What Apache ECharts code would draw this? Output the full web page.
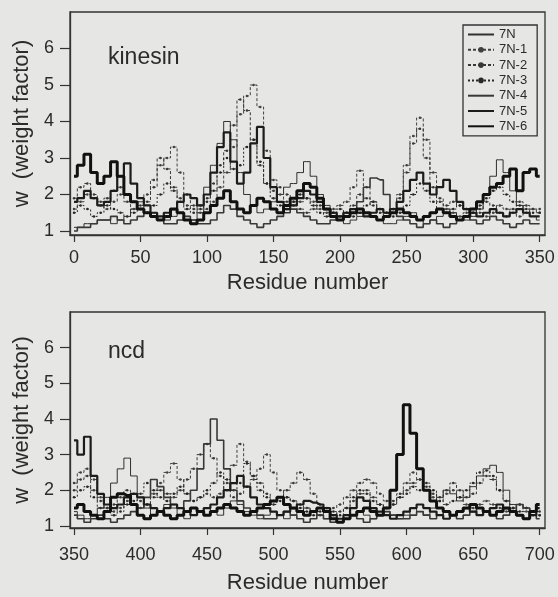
<!DOCTYPE html>
<html>
<head>
<meta charset="utf-8">
<script src="https://cdn.jsdelivr.net/npm/echarts@6/dist/echarts.min.js"></script>
<style>
  html, body { margin: 0; padding: 0; background: #e6e6e4; }
  #chart { width: 558px; height: 597px; }
</style>
</head>
<body>
<div id="chart"></div>
<script>
// Weight-factor profiles along the sequence, sampled every 5 residues.
const seriesNames = ['7N', '7N-1', '7N-2', '7N-3', '7N-4', '7N-5', '7N-6'];

const xTicksKinesin = [0, 50, 100, 150, 200, 250, 300, 350];
const xTicksNcd = [350, 400, 450, 500, 550, 600, 650, 700];
const yTicks = [1, 2, 3, 4, 5, 6];

// kinesin, residues 0..350
const kin7N = [
  1.1, 1.1, 1.2, 1.2, 1.3, 1.3, 1.2, 1.3, 1.4, 1.6,
  1.8, 1.7, 1.5, 1.4, 1.3, 1.4, 1.5, 1.4, 1.3, 1.5,
  2.2, 2.8, 3.4, 4.0, 3.5, 2.6, 2.0, 1.7, 1.5, 1.6,
  1.8, 2.0, 2.2, 2.3, 2.6, 2.9, 2.5, 2.0, 1.7, 1.5,
  1.3, 1.2, 1.3, 1.4, 1.5, 1.4, 1.3, 1.2, 1.2, 1.3,
  1.4, 1.5, 1.3, 1.2, 1.3, 1.4, 1.6, 1.5, 1.4, 1.3,
  1.4, 1.6, 2.0, 2.5, 2.95, 2.6, 2.1, 1.7, 1.5, 1.4,
  1.3
];
const kin7N1 = [
  1.6, 1.8, 2.0, 1.9, 1.7, 1.6, 1.8, 2.0, 1.8, 1.6,
  1.7, 2.0, 2.4, 2.8, 3.0, 3.3, 2.6, 2.0, 1.7, 1.5,
  1.6, 1.8, 2.2, 2.6, 3.3, 4.2, 4.7, 5.0, 4.4, 3.2,
  2.4, 2.0, 1.8, 1.7, 1.8, 1.9, 1.8, 1.6, 1.5, 1.6,
  1.7, 1.8, 2.2, 2.65, 2.2, 1.8, 1.6, 1.5, 1.6, 2.0,
  2.8, 3.6, 4.1, 3.5, 2.6, 1.9, 1.6, 1.5, 1.4, 1.5,
  1.6, 1.5, 1.4, 1.5, 1.7, 1.6, 1.5, 1.4, 1.5, 1.6,
  1.5
];
const kin7N2 = [
  1.9, 2.2, 2.3, 2.0, 1.8, 1.9, 2.1, 2.2, 2.0, 1.8,
  1.6, 1.8, 2.2, 3.0, 2.7, 2.2, 1.9, 1.7, 1.6, 1.7,
  1.9, 2.3, 2.8, 3.2, 3.9, 4.6, 4.3, 3.5, 2.8, 2.3,
  2.1, 2.2, 2.0, 1.8, 1.6, 1.5, 1.6, 1.7, 1.6, 1.5,
  1.4, 1.5, 1.7, 2.0, 1.9, 1.7, 1.5, 1.4, 1.6, 1.9,
  2.6, 3.4, 3.8, 3.0, 2.2, 1.8, 1.7, 1.8, 1.7, 1.6,
  1.5, 1.6, 1.8, 1.7, 1.5, 1.4, 1.6, 1.8, 1.7, 1.6,
  1.6
];
const kin7N3 = [
  1.5, 1.7, 1.6, 1.4, 1.5, 1.7, 1.6, 1.5, 1.4, 1.5,
  1.6, 1.5, 1.7, 2.0, 2.3, 2.1, 1.8, 1.6, 1.5, 1.6,
  1.8, 2.1, 2.6, 3.0, 2.7, 2.8, 3.3, 3.5, 2.9, 2.3,
  1.9, 1.7, 1.6, 1.8, 2.0, 1.9, 1.7, 1.5, 1.4, 1.5,
  1.6, 1.5, 1.4, 1.5, 1.7, 1.8, 1.6, 1.5, 1.4, 1.5,
  1.7, 2.0, 2.3, 2.1, 1.8, 1.6, 1.5, 1.6, 1.7, 1.6,
  1.5, 1.7, 1.9, 2.1, 2.2, 2.0, 1.8, 1.7, 1.6, 1.5,
  1.5
];
const kin7N4 = [
  1.0, 1.1, 1.1, 1.2, 1.3, 1.3, 1.4, 1.3, 1.2, 1.3,
  1.4, 1.5, 1.4, 1.3, 1.2, 1.2, 1.3, 1.4, 1.3, 1.2,
  1.2, 1.3, 1.5, 1.7, 1.6, 1.4, 1.3, 1.2, 1.1, 1.2,
  1.3, 1.4, 1.5, 1.6, 1.5, 1.4, 1.3, 1.2, 1.2, 1.3,
  1.4, 1.5, 1.6, 1.8, 2.2, 2.45, 2.4, 2.0, 1.6, 1.4,
  1.3, 1.2, 1.1, 1.2, 1.3, 1.2, 1.1, 1.2, 1.3, 1.4,
  1.3, 1.2, 1.3, 1.4, 1.3, 1.2, 1.1, 1.2, 1.3, 1.2,
  1.2
];
const kin7N5 = [
  1.8, 1.9, 2.1, 1.9, 1.7, 1.8, 2.1, 2.5, 2.85, 2.3,
  1.9, 1.7, 1.5, 1.4, 1.5, 1.6, 1.8, 2.0, 1.9, 1.7,
  2.0, 2.6, 3.3, 3.7, 2.9, 2.3, 2.6, 3.4, 3.85, 3.0,
  2.2, 1.8, 1.6, 1.7, 1.9, 2.1, 2.0, 1.8, 1.6, 1.5,
  1.4, 1.5, 1.6, 1.5, 1.4, 1.5, 1.6, 1.5, 1.6, 1.8,
  2.1, 2.4, 2.6, 2.3, 2.0, 2.2, 2.4, 2.1, 1.8, 1.6,
  1.5, 1.4, 1.5, 1.6, 1.5, 1.4, 1.5, 1.6, 1.5, 1.4,
  1.4
];
const kin7N6 = [
  2.5, 2.8, 3.1, 2.6, 2.3, 2.5, 2.9, 2.5, 2.0, 1.8,
  1.6, 1.5, 1.4, 1.3, 1.4, 1.6, 1.5, 1.3, 1.2, 1.3,
  1.5, 1.7, 1.9, 2.1, 1.8, 1.6, 1.5, 1.7, 1.9, 1.8,
  1.6, 1.5, 1.7, 1.9, 2.1, 2.3, 2.2, 1.9, 1.6, 1.4,
  1.3, 1.4, 1.5, 1.6, 1.5, 1.4, 1.3, 1.4, 1.5, 1.6,
  1.5, 1.4, 1.3, 1.4, 1.5, 1.6, 1.5, 1.4, 1.3, 1.4,
  1.6, 1.8, 2.0, 2.2, 2.3, 2.5, 2.7, 2.1, 2.6, 2.7,
  2.5
];

// ncd, residues 350..700
const ncd7N = [
  1.4, 1.3, 1.2, 1.3, 1.5, 1.8, 2.2, 2.6, 2.9, 2.4,
  1.8, 1.5, 1.3, 1.4, 1.6, 1.5, 1.3, 1.2, 1.3, 1.4,
  1.5, 1.4, 1.3, 1.5, 1.7, 1.6, 1.4, 1.3, 1.2, 1.3,
  1.4, 1.3, 1.2, 1.3, 1.4, 1.5, 1.4, 1.3, 1.2, 1.1,
  1.1, 1.2, 1.3, 1.4, 1.3, 1.2, 1.3, 1.4, 1.3, 1.2,
  1.3, 1.5, 1.4, 1.3, 1.5, 1.8, 2.0, 1.9, 1.7, 1.8,
  2.1, 2.4, 2.6, 2.7, 2.5, 2.0, 1.6, 1.3, 1.2, 1.3,
  1.4
];
const ncd7N1 = [
  2.2, 2.5, 2.6, 2.3, 1.8, 1.5, 1.4, 1.5, 1.7, 1.6,
  1.5, 1.6, 1.9, 2.2, 2.5, 2.75, 2.3, 1.9, 1.7, 1.8,
  1.9, 1.8, 1.9, 2.2, 2.7, 3.3, 2.8, 2.4, 2.6, 3.0,
  2.5, 2.0, 1.8, 1.7, 1.6, 1.5, 1.4, 1.3, 1.4, 1.5,
  1.6, 1.8, 2.0, 2.2, 2.3, 2.2, 1.9, 1.7, 1.6, 1.8,
  2.2, 2.5, 2.3, 2.0, 1.8, 1.7, 1.9, 2.0, 1.8, 1.6,
  1.5, 1.6, 1.7, 1.6, 1.5, 1.4, 1.5, 1.6, 1.4, 1.3,
  1.3
];
const ncd7N2 = [
  2.0, 2.3, 2.4, 2.0, 1.7, 1.5, 1.6, 1.8, 2.0, 1.9,
  1.7, 1.6, 1.8, 2.0, 1.9, 1.8, 2.0, 2.3, 2.6, 3.0,
  3.3, 2.9, 2.4, 2.0, 1.8, 1.9, 2.1, 2.3, 2.2, 1.9,
  1.7, 1.8, 2.0, 2.2, 2.5, 2.3, 1.9, 1.6, 1.4, 1.3,
  1.4, 1.5, 1.7, 1.9, 2.0, 1.8, 1.6, 1.5, 1.7, 1.9,
  2.0, 2.2, 2.3, 2.1, 1.9, 1.8, 2.0, 2.2, 2.0, 1.8,
  1.9, 2.2, 2.4, 2.3, 2.0, 1.7, 1.5, 1.6, 1.5, 1.4,
  1.4
];
const ncd7N3 = [
  1.8, 2.0, 2.1, 1.8, 1.5, 1.4, 1.3, 1.4, 1.6, 1.7,
  1.9, 2.2, 2.0, 1.8, 1.7, 1.9, 2.1, 1.9, 1.7, 1.8,
  2.0, 2.2, 2.5, 2.3, 2.0, 2.2, 2.75, 2.4, 2.0, 1.8,
  1.6, 1.7, 1.8, 1.7, 1.5, 1.4, 1.3, 1.4, 1.5, 1.4,
  1.3, 1.5, 1.8, 2.0, 1.9, 1.7, 1.6, 1.5, 1.6, 1.8,
  1.9, 2.1, 2.0, 2.2, 2.0, 1.7, 1.6, 1.7, 1.8, 2.0,
  2.2, 2.5, 2.55, 2.4, 2.0, 1.7, 1.5, 1.4, 1.5, 1.4,
  1.3
];
const ncd7N4 = [
  1.3, 1.2, 1.1, 1.2, 1.3, 1.2, 1.1, 1.2, 1.3, 1.4,
  1.5, 1.8, 2.3, 2.1, 1.8, 1.6, 1.5, 1.7, 2.0, 2.6,
  3.3, 4.0, 3.4, 2.6, 2.0, 1.7, 1.5, 1.4, 1.3, 1.2,
  1.2, 1.3, 1.4, 1.3, 1.2, 1.1, 1.2, 1.3, 1.2, 1.1,
  1.1, 1.2, 1.3, 1.2, 1.1, 1.2, 1.3, 1.4, 1.3, 1.2,
  1.2, 1.3, 1.4, 1.3, 1.2, 1.3, 1.4, 1.3, 1.2, 1.3,
  1.4, 1.5, 1.4, 1.3, 1.2, 1.3, 1.4, 1.6, 1.5, 1.3,
  1.2
];
const ncd7N5 = [
  3.4, 3.0, 3.5, 2.4, 1.9, 1.6, 1.5, 1.6, 1.8, 1.9,
  1.8, 1.6, 1.5, 1.4, 1.5, 1.6, 1.5, 1.4, 1.3, 1.4,
  1.5, 1.6, 1.8, 2.0, 2.2, 2.4, 2.1, 1.8, 1.6, 1.5,
  1.4, 1.3, 1.4, 1.5, 1.6, 1.7, 1.65, 1.6, 1.5, 1.3,
  1.2, 1.3, 1.5, 1.8, 1.7, 1.5, 1.4, 1.3, 1.2, 1.3,
  1.4, 1.5, 1.6, 1.5, 1.4, 1.3, 1.2, 1.3, 1.4, 1.5,
  1.4, 1.3, 1.4, 1.5, 1.6, 1.5, 1.4, 1.3, 1.2, 1.3,
  1.5
];
const ncd7N6 = [
  1.5, 1.6, 1.4, 1.3, 1.2, 1.4, 1.8, 1.9, 1.85, 1.6,
  1.3, 1.2, 1.3, 1.4, 1.3, 1.2, 1.3, 1.4, 1.5, 1.4,
  1.3, 1.4, 1.5, 1.6, 1.5, 1.4, 1.3, 1.4, 1.5, 1.6,
  1.7, 1.8, 1.6, 1.5, 1.4, 1.3, 1.4, 1.5, 1.4, 1.2,
  1.1, 1.2, 1.3, 1.4, 1.5, 1.4, 1.3, 1.5, 2.0, 3.0,
  4.4, 3.6, 2.6, 2.0, 1.7, 1.5, 1.4, 1.3, 1.4, 1.5,
  1.6, 1.5, 1.4, 1.3, 1.4, 1.5, 1.4, 1.3, 1.2, 1.4,
  1.6
];

const kinesinValues = [kin7N, kin7N1, kin7N2, kin7N3, kin7N4, kin7N5, kin7N6];
const ncdValues = [ncd7N, ncd7N1, ncd7N2, ncd7N3, ncd7N4, ncd7N5, ncd7N6];

// residue number of each sample: every 5 residues from the panel start
function residues(start, count) {
  const r = [];
  for (let i = 0; i < count; i++) r.push(start + 5 * i);
  return r;
}
const kinesinResidues = residues(0, kin7N.length);
const ncdResidues = residues(350, ncd7N.length);

// drawing style for each profile
const styles = [
  { color: '#303030', width: 1.0, type: 'solid', dots: false },
  { color: '#404040', width: 1.0, type: [3, 2], dots: true },
  { color: '#383838', width: 1.0, type: [3, 2], dots: true },
  { color: '#282828', width: 1.0, type: [2, 2], dots: true },
  { color: '#383838', width: 1.6, type: 'solid', dots: false },
  { color: '#1c1c1c', width: 2.2, type: 'solid', dots: false },
  { color: '#111111', width: 3.0, type: 'solid', dots: false }
];

const FONT = '"Liberation Sans", Arial, Helvetica, sans-serif';
const INK = '#2b2b2b';

function makeSeries(values, xs, gridIdx) {
  return values.map((vals, k) => ({
    name: seriesNames[k],
    type: 'line',
    step: 'middle',
    xAxisIndex: gridIdx,
    yAxisIndex: gridIdx,
    data: vals.map((v, i) => [xs[i], v]),
    symbol: styles[k].dots ? 'circle' : 'none',
    symbolSize: 2.5,
    showSymbol: styles[k].dots,
    itemStyle: { color: styles[k].color },
    lineStyle: { color: styles[k].color, width: styles[k].width, type: styles[k].type },
    silent: true,
    animation: false,
    z: 2 + k
  }));
}

function xAxisFor(gridIdx, min, max, ticks, labelMargin, nameGap) {
  return {
    type: 'value', gridIndex: gridIdx, min: min, max: max,
    name: 'Residue number', nameLocation: 'middle', nameGap: nameGap,
    nameTextStyle: { fontFamily: FONT, fontSize: 22, color: INK },
    axisLine: { show: true, onZero: false, lineStyle: { color: '#333', width: 1.3 } },
    axisTick: { show: true, customValues: ticks, length: 7, lineStyle: { color: '#333', width: 1.2 } },
    axisLabel: { customValues: ticks, margin: labelMargin, fontFamily: FONT, fontSize: 18, color: INK },
    splitLine: { show: false }
  };
}

function yAxisFor(gridIdx, min) {
  return {
    type: 'value', gridIndex: gridIdx, min: min, max: 7,
    name: 'w  (weight factor)', nameLocation: 'middle', nameGap: 35, nameRotate: 90,
    nameTextStyle: { fontFamily: FONT, fontSize: 22, color: INK },
    axisLine: { show: true, onZero: false, lineStyle: { color: '#333', width: 1.3 } },
    axisTick: { show: true, customValues: yTicks, length: 10, lineStyle: { color: '#333', width: 1.2 } },
    axisLabel: { customValues: yTicks, margin: 16, fontFamily: FONT, fontSize: 18, color: INK },
    splitLine: { show: false }
  };
}

// legend entries: solid profiles show only their line, dotted ones keep the dot
const legendData = seriesNames.map((n, k) => (
  styles[k].dots ? { name: n } : { name: n, itemStyle: { opacity: 0 } }
));

const chart = echarts.init(document.getElementById('chart'), null, { renderer: 'canvas' });

chart.setOption({
  backgroundColor: '#e6e6e4',
  animation: false,
  grid: [
    { left: 70, top: 12, width: 475, height: 223, show: true, backgroundColor: 'transparent', borderColor: '#333', borderWidth: 1.3 },
    { left: 70, top: 312, width: 475, height: 216, show: true, backgroundColor: 'transparent', borderColor: '#333', borderWidth: 1.3 }
  ],
  xAxis: [
    xAxisFor(0, -3, 354, xTicksKinesin, 14, 37),
    xAxisFor(1, 347, 704, xTicksNcd, 18, 44)
  ],
  yAxis: [
    yAxisFor(0, 0.89),
    yAxisFor(1, 0.94)
  ],
  legend: {
    orient: 'vertical', left: 463, top: 25,
    itemWidth: 26, itemHeight: 7, itemGap: 2.3,
    padding: [3, 10, 3, 4],
    borderColor: '#333', borderWidth: 1.3,
    backgroundColor: 'transparent',
    textStyle: { fontFamily: FONT, fontSize: 13, lineHeight: 13, color: INK },
    data: legendData,
    selectedMode: false
  },
  graphic: [
    { type: 'text', left: 108, top: 46, style: { text: 'kinesin', font: '23px ' + FONT, fill: INK } },
    { type: 'text', left: 108, top: 340, style: { text: 'ncd', font: '23px ' + FONT, fill: INK } }
  ],
  series: makeSeries(kinesinValues, kinesinResidues, 0).concat(makeSeries(ncdValues, ncdResidues, 1))
});
</script>
</body>
</html>
